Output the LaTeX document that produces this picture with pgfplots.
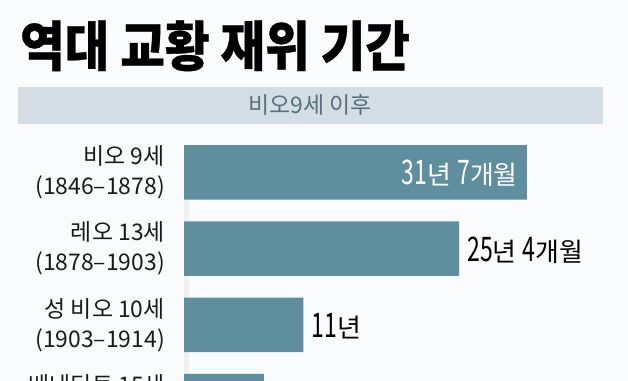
\documentclass[border=0pt]{standalone}
\usepackage{pgfplots}
\pgfplotsset{compat=1.18}
\usepackage{fontspec}
\setmainfont{Noto Sans CJK KR}
\newfontfamily\titlefont[FakeStretch=0.9,FakeBold=0.6]{Noto Sans CJK KR}
\newfontfamily\numfont[FakeStretch=0.68]{Noto Sans CJK KR}
\definecolor{barc}{HTML}{5F8E9E}
\definecolor{bandc}{HTML}{D3DDE3}
\definecolor{bandtxt}{HTML}{56707C}
\definecolor{bgc}{HTML}{F9FBFC}
\definecolor{txt}{HTML}{1A1A1A}
\newcommand\num[1]{{\numfont\fontsize{34}{34}\selectfont #1}}
\newcommand\unit[1]{{\fontsize{26}{26}\selectfont #1}}
\newcommand\labfont{\fontsize{23}{30}\selectfont}
\begin{document}
\begin{tikzpicture}
\useasboundingbox (0bp,0bp) rectangle (628bp,381bp);
\clip (0bp,0bp) rectangle (628bp,381bp);
\fill[bgc] (0bp,0bp) rectangle (628bp,381bp);
\node[anchor=base west, inner sep=0, text=black] at (20bp,315bp) {\titlefont\bfseries\fontsize{54}{54}\selectfont 역대 교황 재위 기간};
\fill[bandc] (18bp,257bp) rectangle (603bp,294bp);
\node[text=bandtxt, inner sep=0] at (310bp,276bp) {\fontsize{23}{23}\selectfont 비오9세 이후};
\fill[gray!12] (184bp,0bp) rectangle (189bp,236bp);
\begin{axis}[at={(184bp,246.6bp)}, anchor=north west, scale only axis,
  width=434.4bp, height=304.8bp, xmin=0, xmax=40, ymin=-3.5, ymax=0.5,
  axis lines=none, clip=false]
\addplot[xbar, fill=barc, draw=none, bar width=54.5bp] coordinates {(31.58,0) (25.33,-1) (11,-2) (7.35,-3)};
\node[anchor=east, align=right, inner sep=0, text=txt, font=\labfont] at (axis cs:0,0) [xshift=-19bp] {비오 9세\\(1846–1878)};
\node[anchor=east, align=right, inner sep=0, text=txt, font=\labfont] at (axis cs:0,-1) [xshift=-19bp] {레오 13세\\(1878–1903)};
\node[anchor=east, align=right, inner sep=0, text=txt, font=\labfont] at (axis cs:0,-2) [xshift=-19bp] {성 비오 10세\\(1903–1914)};
\node[anchor=east, align=right, inner sep=0, text=txt, font=\labfont] at (axis cs:0,-3) [xshift=-19bp] {베네딕토 15세\\(1914–1922)};
\node[anchor=base east, inner sep=0, text=white] at (axis cs:31.58,0) [xshift=-9bp, yshift=-12.5bp] {\num{31}\unit{년}\hspace{6bp}\num{7}\unit{개월}};
\node[anchor=base west, inner sep=0, text=black] at (axis cs:25.33,-1) [xshift=8bp, yshift=-12.5bp] {\num{25}\unit{년}\hspace{6bp}\num{4}\unit{개월}};
\node[anchor=base west, inner sep=0, text=black] at (axis cs:11,-2) [xshift=8bp, yshift=-12.5bp] {\num{11}\unit{년}};
\node[anchor=base west, inner sep=0, text=black] at (axis cs:7.35,-3) [xshift=8bp, yshift=-12.5bp] {\num{7}\unit{년}\hspace{6bp}\num{4}\unit{개월}};
\end{axis}
\end{tikzpicture}
\end{document}
